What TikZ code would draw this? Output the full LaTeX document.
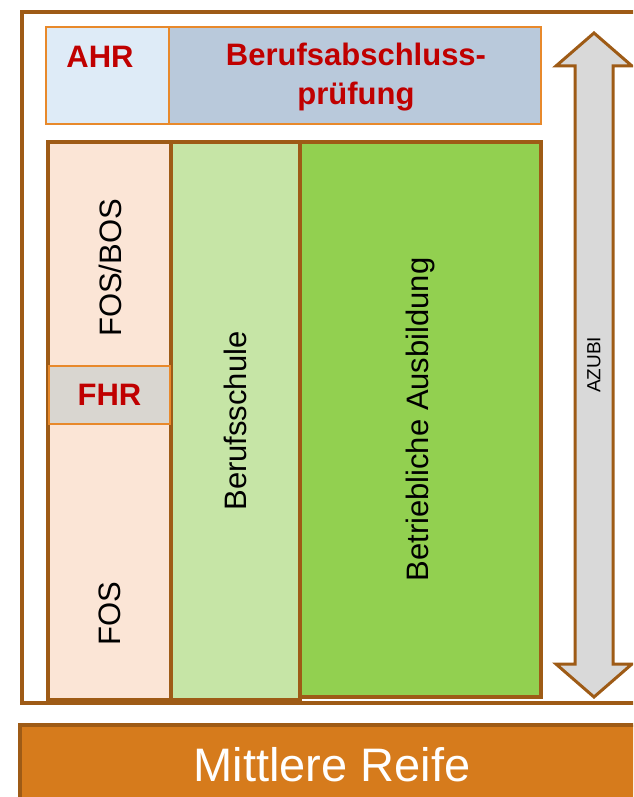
\documentclass[tikz,border=0pt]{standalone}
\usepackage{fontspec}
\setmainfont{Liberation Sans}
\usepackage{tikz}
\usetikzlibrary{positioning}
\definecolor{framebrown}{HTML}{9E5B16}
\definecolor{thinorange}{HTML}{E8892B}
\definecolor{peach}{HTML}{FBE5D6}
\definecolor{lightgreen}{HTML}{C6E5A6}
\definecolor{midgreen}{HTML}{92D050}
\definecolor{fhrgray}{HTML}{D9D6D0}
\definecolor{ahrblue}{HTML}{DEEBF7}
\definecolor{bapblue}{HTML}{B9C9DB}
\definecolor{darkred}{HTML}{C00000}
\definecolor{azubigray}{HTML}{D9D9D9}
\definecolor{mrorange}{HTML}{D67B1C}

\begin{document}
\begin{tikzpicture}[x=1pt,y=-1pt,
    col/.style={draw=framebrown,line width=3.5pt,inner sep=0pt,outer sep=0pt,anchor=north west},
    thinbox/.style={draw=thinorange,line width=1.5pt,inner sep=0pt,outer sep=0pt},
    redlabel/.style={text=darkred,font=\fontsize{31}{39}\selectfont\bfseries,align=center},
    vlabel/.style={rotate=90,font=\fontsize{31}{37}\selectfont}]
    \useasboundingbox (0,0) rectangle (633,797);
    \clip (0,0) rectangle (633,797);
    \draw[draw=framebrown,line width=3.5pt] (22,12) rectangle (660,703);
    % top row
    \node[thinbox,fill=ahrblue,minimum width=123,minimum height=97,anchor=north west] (ahr) at (46,27) {};
    \node[thinbox,fill=bapblue,minimum width=372,minimum height=97,anchor=north west] (bap) at (ahr.north east) {};
    \node[redlabel] (ahrtext) at (100,57) {AHR};
    \node[redlabel] (baptext) at (356,77) {Berufsabschluss-\\prüfung};
    % columns
    \node[col,fill=peach,minimum width=123,minimum height=558] (fos) at (48,142) {};
    \node[col,fill=lightgreen,minimum width=129,minimum height=558] (bs) at (fos.north east) {};
    \node[col,fill=midgreen,minimum width=241,minimum height=555] (ba) at (bs.north east) {};
    \node[thinbox,fill=fhrgray,minimum width=121,minimum height=58,text=darkred,font=\fontsize{31}{37}\selectfont\bfseries] (fhr) at (109.5,395) {FHR};
    \node[vlabel] (fosbostext) at (110,268) {FOS/BOS};
    \node[vlabel] (fostext) at (110,614) {FOS};
    \node[vlabel] (bstext) at (bs.center) {Berufsschule};
    \node[vlabel] (batext) at (ba.center) {Betriebliche Ausbildung};
    % azubi arrow
    \draw[draw=framebrown,line width=3pt,fill=azubigray,line join=miter]
      (594,33) -- (632,66) -- (613,66) -- (613,664) -- (632,664) -- (594,697)
      -- (556,664) -- (575,664) -- (575,66) -- (556,66) -- cycle;
    \node[rotate=90,font=\fontsize{19}{23}\selectfont] (azubi) at (594,365) {AZUBI};
    % base
    \node[col,fill=mrorange,minimum width=640,minimum height=82] (mr) at (20,725) {};
    \node[text=white,font=\fontsize{47}{56}\selectfont] (mrtext) at (332,765) {Mittlere Reife};
\end{tikzpicture}
\end{document}
